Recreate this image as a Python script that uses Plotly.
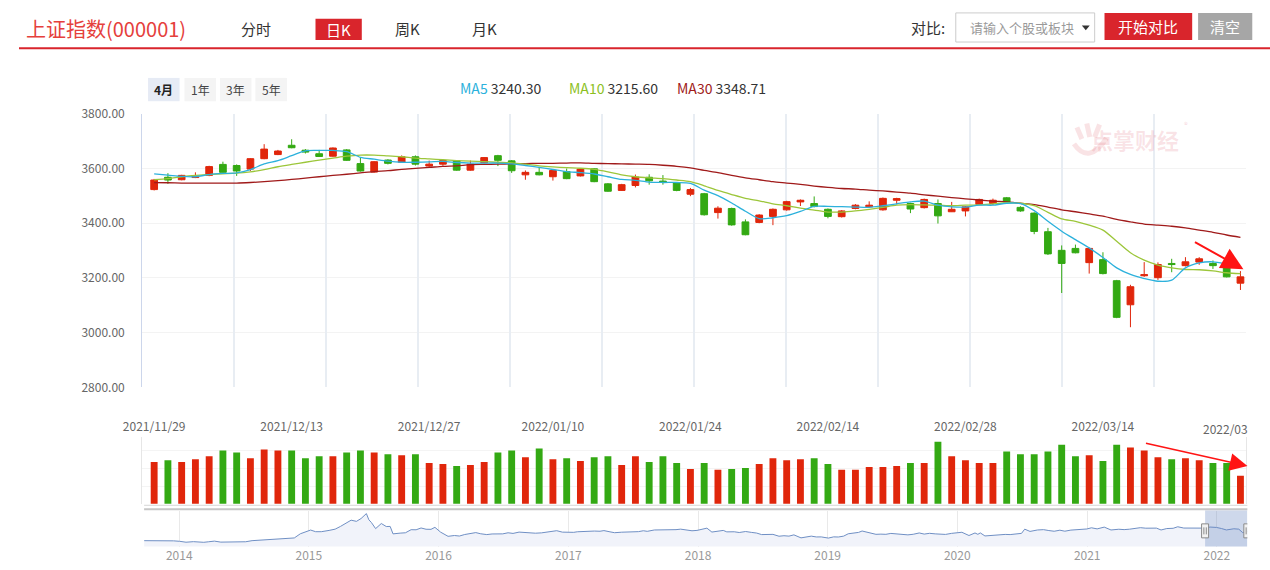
import plotly.graph_objects as go

# ---------------- data ----------------
dates = [
    "2021/11/29", "2021/11/30", "2021/12/01", "2021/12/02", "2021/12/03",
    "2021/12/06", "2021/12/07", "2021/12/08", "2021/12/09", "2021/12/10",
    "2021/12/13", "2021/12/14", "2021/12/15", "2021/12/16", "2021/12/17",
    "2021/12/20", "2021/12/21", "2021/12/22", "2021/12/23", "2021/12/24",
    "2021/12/27", "2021/12/28", "2021/12/29", "2021/12/30", "2021/12/31",
    "2022/01/04", "2022/01/05", "2022/01/06", "2022/01/07",
    "2022/01/10", "2022/01/11", "2022/01/12", "2022/01/13", "2022/01/14",
    "2022/01/17", "2022/01/18", "2022/01/19", "2022/01/20", "2022/01/21",
    "2022/01/24", "2022/01/25", "2022/01/26", "2022/01/27", "2022/01/28",
    "2022/02/07", "2022/02/08", "2022/02/09", "2022/02/10", "2022/02/11",
    "2022/02/14", "2022/02/15", "2022/02/16", "2022/02/17", "2022/02/18",
    "2022/02/21", "2022/02/22", "2022/02/23", "2022/02/24", "2022/02/25",
    "2022/02/28", "2022/03/01", "2022/03/02", "2022/03/03", "2022/03/04",
    "2022/03/07", "2022/03/08", "2022/03/09", "2022/03/10", "2022/03/11",
    "2022/03/14", "2022/03/15", "2022/03/16", "2022/03/17", "2022/03/18",
    "2022/03/21", "2022/03/22", "2022/03/23", "2022/03/24", "2022/03/25",
    "2022/03/28",
]

opens = [3523, 3568, 3559, 3567, 3575, 3615, 3611, 3598, 3636, 3651,
         3685, 3667, 3654, 3645, 3668, 3618, 3587, 3631, 3623, 3643,
         3609, 3616, 3628, 3594, 3621, 3647, 3628, 3577, 3586, 3570,
         3589, 3573, 3599, 3544, 3520, 3538, 3568, 3554, 3547, 3506,
         3508, 3439, 3454, 3405, 3403, 3425, 3449, 3478, 3472, 3451,
         3424, 3454, 3460, 3449, 3484, 3472, 3457, 3472, 3442, 3445,
         3469, 3472, 3493, 3458, 3437, 3369, 3301, 3308, 3256, 3267,
         3190, 3102, 3208, 3201, 3253, 3245, 3258, 3253, 3242, 3181]
closes = [3558, 3558, 3575, 3572, 3607, 3586, 3591, 3636, 3671, 3664,
          3676, 3660, 3644, 3675, 3630, 3591, 3625, 3619, 3643, 3616,
          3616, 3629, 3594, 3616, 3640, 3630, 3592, 3586, 3577, 3593,
          3563, 3598, 3552, 3517, 3541, 3569, 3555, 3550, 3520, 3523,
          3431, 3455, 3394, 3358, 3430, 3451, 3479, 3484, 3461, 3425,
          3445, 3466, 3466, 3491, 3490, 3452, 3487, 3427, 3451, 3460,
          3487, 3484, 3478, 3445, 3370, 3288, 3253, 3292, 3308, 3216,
          3056, 3168, 3212, 3249, 3249, 3259, 3270, 3245, 3204, 3204]
highs = [3562, 3583, 3577, 3586, 3610, 3625, 3615, 3638, 3689, 3668,
         3707, 3671, 3668, 3677, 3671, 3641, 3627, 3634, 3648, 3648,
         3629, 3633, 3630, 3629, 3642, 3650, 3631, 3593, 3605, 3596,
         3600, 3600, 3601, 3547, 3544, 3578, 3579, 3576, 3549, 3529,
         3511, 3462, 3457, 3414, 3433, 3454, 3482, 3487, 3498, 3454,
         3448, 3470, 3480, 3494, 3493, 3475, 3490, 3487, 3478, 3463,
         3490, 3490, 3496, 3462, 3440, 3383, 3319, 3322, 3311, 3294,
         3193, 3175, 3258, 3257, 3270, 3276, 3276, 3264, 3245, 3225]
lows = [3520, 3544, 3557, 3565, 3572, 3584, 3573, 3591, 3634, 3649,
        3674, 3655, 3642, 3643, 3628, 3589, 3585, 3615, 3621, 3611,
        3603, 3610, 3592, 3592, 3619, 3609, 3584, 3559, 3575, 3556,
        3561, 3571, 3550, 3515, 3518, 3531, 3541, 3541, 3517, 3499,
        3428, 3417, 3391, 3356, 3400, 3393, 3446, 3463, 3458, 3418,
        3421, 3451, 3457, 3446, 3469, 3437, 3454, 3399, 3441, 3425,
        3466, 3466, 3475, 3442, 3360, 3284, 3145, 3290, 3216, 3213,
        3053, 3020, 3204, 3193, 3221, 3242, 3248, 3233, 3202, 3156]

ma5 = [3580.5, 3576, 3571, 3570, 3578, 3582, 3584, 3596, 3617, 3629,
       3647, 3664.5, 3666, 3666, 3662, 3641, 3634, 3627, 3623, 3623,
       3624, 3626, 3622, 3620, 3620, 3620, 3617, 3611, 3604, 3596.5,
       3588.5, 3585, 3580, 3570, 3560, 3557, 3550.5, 3549, 3549, 3545.5,
       3521, 3501, 3474, 3444, 3417, 3420, 3427.5, 3443, 3462, 3461.5,
       3460.5, 3459, 3458, 3464, 3471, 3478, 3481, 3466, 3460, 3459,
       3466, 3466, 3473, 3472, 3446, 3407, 3371, 3340, 3310, 3275,
       3237, 3213, 3198, 3188, 3192, 3237, 3255, 3259, 3251, 3240.3]
ma10 = [3559, 3563, 3570, 3575, 3578, 3580.5, 3583, 3588, 3596, 3606.5,
        3615, 3623, 3631, 3638, 3645, 3649, 3649, 3646, 3643, 3638,
        3635, 3632, 3629, 3627, 3625, 3623, 3621, 3616, 3610, 3606,
        3603, 3601, 3597, 3588, 3577, 3570, 3566, 3563, 3558, 3552,
        3537, 3520, 3505, 3491, 3482, 3471, 3464, 3455, 3448, 3441,
        3441, 3445, 3451, 3458, 3466, 3468, 3467, 3466, 3464, 3466,
        3467, 3471, 3475, 3473, 3464, 3440, 3416, 3407, 3393, 3375,
        3334, 3292, 3265, 3247, 3237, 3231, 3230, 3226, 3219, 3215.6]
ma30 = [3548.6, 3548, 3547, 3547, 3547, 3547, 3547, 3549, 3552, 3556,
        3560, 3565, 3570, 3575, 3579, 3584, 3589, 3592, 3597, 3600.6,
        3604, 3608, 3610, 3614, 3615, 3616, 3617, 3618, 3619, 3619,
        3620, 3621, 3619, 3618, 3617, 3616, 3615, 3612, 3608, 3602,
        3593, 3585, 3575, 3566, 3559, 3552, 3547, 3542, 3536, 3531,
        3527, 3525, 3521, 3518, 3514, 3510, 3504, 3499, 3494, 3489,
        3485, 3481, 3478, 3473, 3468, 3459, 3449, 3442, 3434, 3426,
        3414, 3405, 3397, 3393, 3389, 3383, 3375, 3367, 3357, 3348.71]

volumes = [4366, 4475, 4366, 4530, 4696, 5025, 4916, 4586, 5080, 5025,
           5025, 4586, 4696, 4696, 4916, 5025, 4916, 4805, 4750, 4805,
           4311, 4256, 4146, 4201, 4366, 4916, 5025, 4641, 5135, 4530,
           4586, 4421, 4641, 4696, 4201, 4696, 4366, 4696, 4311, 3981,
           4311, 3926, 3981, 4036, 4256, 4586, 4475, 4530, 4586, 4256,
           3926, 3926, 4091, 4091, 4146, 4311, 4311, 5520, 4696, 4475,
           4311, 4311, 4970, 4805, 4805, 4970, 5355, 4696, 4750, 4421,
           5355, 5190, 5025, 4641, 4530, 4586, 4475, 4311, 4311, 3596]

tick_dates = ["2021/11/29", "2021/12/13", "2021/12/27", "2022/01/10", "2022/01/24",
              "2022/02/14", "2022/02/28", "2022/03/14"]
last_tick_label = "2022/03"
y_ticks = [2800, 3000, 3200, 3400, 3600, 3800]

legend_names = ["MA5", "MA10", "MA30"]
legend_values = ["3240.30", "3215.60", "3348.71"]

nav_dates = [
    "2013-09-24", "2013-10-15", "2013-11-01", "2013-11-15", "2013-12-02", "2013-12-16",
    "2014-01-02", "2014-01-20", "2014-02-10", "2014-02-24", "2014-03-11", "2014-03-25",
    "2014-04-10", "2014-04-28", "2014-05-15", "2014-06-03", "2014-06-20", "2014-07-07",
    "2014-07-25", "2014-08-11", "2014-08-29", "2014-09-15", "2014-09-30", "2014-10-20",
    "2014-11-05", "2014-11-21", "2014-12-08", "2014-12-22", "2015-01-06", "2015-01-20",
    "2015-02-05", "2015-02-27", "2015-03-16", "2015-03-31", "2015-04-15", "2015-04-30",
    "2015-05-15", "2015-05-28", "2015-06-12", "2015-06-19", "2015-06-26", "2015-07-08",
    "2015-07-24", "2015-08-07", "2015-08-18", "2015-08-26", "2015-09-15", "2015-09-30",
    "2015-10-16", "2015-10-30", "2015-11-13", "2015-11-27", "2015-12-11", "2015-12-22",
    "2016-01-07", "2016-01-28", "2016-02-15", "2016-02-29", "2016-03-15", "2016-03-31",
    "2016-04-15", "2016-04-29", "2016-05-16", "2016-05-31", "2016-06-15", "2016-06-30",
    "2016-07-15", "2016-07-29", "2016-08-15", "2016-08-31", "2016-09-14", "2016-09-30",
    "2016-10-17", "2016-10-31", "2016-11-15", "2016-11-29", "2016-12-15", "2016-12-30",
    "2017-01-16", "2017-01-26", "2017-02-15", "2017-02-28", "2017-03-15", "2017-03-31",
    "2017-04-11", "2017-04-28", "2017-05-11", "2017-05-31", "2017-06-15", "2017-06-30",
    "2017-07-17", "2017-07-31", "2017-08-11", "2017-08-31", "2017-09-15", "2017-09-29",
    "2017-10-16", "2017-10-31", "2017-11-13", "2017-11-30", "2017-12-15", "2017-12-29",
    "2018-01-12", "2018-01-26", "2018-02-09", "2018-02-28", "2018-03-13", "2018-03-23",
    "2018-04-13", "2018-04-27", "2018-05-15", "2018-05-31", "2018-06-15", "2018-06-29",
    "2018-07-13", "2018-07-31", "2018-08-17", "2018-08-31", "2018-09-14", "2018-09-28",
    "2018-10-18", "2018-10-31", "2018-11-16", "2018-11-30", "2018-12-14", "2019-01-03",
    "2019-01-18", "2019-01-31", "2019-02-15", "2019-02-28", "2019-03-15", "2019-03-29",
    "2019-04-08", "2019-04-30", "2019-05-17", "2019-05-31", "2019-06-14", "2019-06-28",
    "2019-07-15", "2019-07-31", "2019-08-15", "2019-08-30", "2019-09-16", "2019-09-30",
    "2019-10-15", "2019-10-31", "2019-11-15", "2019-11-29", "2019-12-16", "2019-12-31",
    "2020-01-14", "2020-02-03", "2020-02-20", "2020-02-28", "2020-03-06", "2020-03-19",
    "2020-03-31", "2020-04-15", "2020-04-30", "2020-05-15", "2020-05-29", "2020-06-15",
    "2020-06-30", "2020-07-09", "2020-07-24", "2020-08-14", "2020-08-31", "2020-09-15",
    "2020-09-30", "2020-10-16", "2020-10-30", "2020-11-16", "2020-11-30", "2020-12-15",
    "2020-12-31", "2021-01-13", "2021-01-29", "2021-02-18", "2021-03-09", "2021-03-31",
    "2021-04-15", "2021-04-30", "2021-05-14", "2021-05-31", "2021-06-15", "2021-06-30",
    "2021-07-15", "2021-07-28", "2021-08-13", "2021-08-31", "2021-09-13", "2021-09-30",
    "2021-10-15", "2021-10-29", "2021-11-15", "2021-11-26", "2021-12-13", "2021-12-31",
    "2022-01-14", "2022-01-28", "2022-02-18", "2022-03-04", "2022-03-15", "2022-03-28",
]
nav_values = [
    2180, 2190, 2150, 2135, 2210, 2160,
    2110, 2010, 2070, 2030, 2000, 2060,
    2130, 2020, 2025, 2030, 2025, 2060,
    2180, 2220, 2215, 2300, 2365, 2360,
    2430, 2480, 2940, 3130, 3350, 3170,
    3170, 3310, 3450, 3750, 4085, 4440,
    4310, 4620, 5166, 4480, 4190, 3510,
    4070, 3740, 3750, 2930, 3010, 3050,
    3390, 3380, 3580, 3440, 3430, 3650,
    3120, 2660, 2750, 2690, 2860, 3000,
    3070, 2940, 2850, 2920, 2890, 2930,
    3050, 2980, 3125, 3085, 3000, 3005,
    3040, 3100, 3210, 3280, 3120, 3105,
    3100, 3160, 3210, 3240, 3240, 3220,
    3290, 3155, 3060, 3115, 3130, 3190,
    3175, 3275, 3210, 3360, 3355, 3350,
    3390, 3395, 3450, 3320, 3270, 3310,
    3430, 3560, 3130, 3260, 3310, 3150,
    3160, 3080, 3190, 3095, 3020, 2850,
    2830, 2875, 2670, 2725, 2680, 2820,
    2490, 2600, 2680, 2590, 2595, 2465,
    2600, 2585, 2680, 2940, 3020, 3090,
    3245, 3080, 2880, 2900, 2880, 2980,
    2940, 2930, 2820, 2885, 3030, 2905,
    2990, 2930, 2890, 2870, 2985, 3050,
    3105, 2750, 3030, 2880, 3035, 2700,
    2750, 2810, 2860, 2870, 2850, 2890,
    2985, 3450, 3200, 3360, 3395, 3295,
    3220, 3335, 3225, 3345, 3390, 3370,
    3470, 3600, 3480, 3675, 3360, 3440,
    3400, 3445, 3490, 3615, 3555, 3590,
    3565, 3360, 3515, 3545, 3715, 3570,
    3570, 3550, 3535, 3565, 3681, 3640,
    3521, 3361, 3491, 3448, 3064, 3214,
]

# ---------------- style ----------------
W, H = 1270, 570
RED = "#e0260b"
GREEN = "#33a913"
C_MA5 = "#2cb1dc"
C_MA10 = "#9cc63a"
C_MA30 = "#a01a1a"
WM = "rgba(220,80,95,0.16)"
FONT = "Noto Sans CJK SC, Noto Sans, sans-serif"


def px(x):
    return x / W


def py(y):
    return 1 - y / H


main_dom_x = [px(125), px(1246)]
cat_range = [-0.875, 79.43]

fig = go.Figure()

# vertical grid helper (12 equal divisions of main plot)
fig.add_trace(go.Scatter(x=[0, 12], y=[y_ticks[0], y_ticks[0]], mode="markers",
                         marker=dict(opacity=0), xaxis="x4", yaxis="y",
                         hoverinfo="skip", showlegend=False))

fig.add_trace(go.Candlestick(
    x=dates, open=opens, high=highs, low=lows, close=closes,
    increasing=dict(line=dict(color=RED, width=1), fillcolor=RED),
    decreasing=dict(line=dict(color=GREEN, width=1), fillcolor=GREEN),
    whiskerwidth=0, xaxis="x", yaxis="y", showlegend=False))

for vals, col in [(ma30, C_MA30), (ma10, C_MA10), (ma5, C_MA5)]:
    fig.add_trace(go.Scatter(x=dates, y=vals, mode="lines",
                             line=dict(color=col, width=1.3, shape="spline", smoothing=0.8),
                             xaxis="x", yaxis="y", hoverinfo="skip", showlegend=False))

bar_colors = [RED if c >= o else GREEN for o, c in zip(opens, closes)]
fig.add_trace(go.Bar(x=dates, y=volumes, marker=dict(color=bar_colors, line=dict(width=0)),
                     xaxis="x2", yaxis="y2", showlegend=False, hoverinfo="skip"))

fig.add_trace(go.Scatter(x=nav_dates, y=nav_values, mode="lines", fill="tozeroy",
                         fillcolor="#f1f3fa", line=dict(color="#6f8fc4", width=1),
                         xaxis="x3", yaxis="y3", hoverinfo="skip", showlegend=False))

shapes = []


def prect(x0, y0, x1, y1, fill, line=None, layer="below"):
    shapes.append(dict(type="rect", xref="paper", yref="paper", x0=px(x0), x1=px(x1),
                       y0=py(y1), y1=py(y0), fillcolor=fill,
                       line=line if line else dict(width=0), layer=layer))


def pline(x0, y0, x1, y1, color, width):
    shapes.append(dict(type="line", xref="paper", yref="paper", x0=px(x0), x1=px(x1),
                       y0=py(y0), y1=py(y1), line=dict(color=color, width=width)))


# header
pline(0, 39.5, W, 39.5, "#d9252c", 2)
prect(301, 9, 348, 31, "#d9252c")
prect(951, 3, 1092, 33, "white", dict(color="#cccccc", width=1))
prect(1102, 3, 1191, 31, "#d9252c")
prect(1197, 3, 1252, 31, "#a6a6a6")
# dropdown caret
shapes.append(dict(type="path", xref="paper", yref="paper",
                   path="M %f,%f L %f,%f L %f,%f Z" % (px(1079), py(16), px(1087), py(16), px(1083), py(21)),
                   fillcolor="#333", line=dict(width=0)))
# range buttons
for (x0, x1), fc in zip([(131, 163), (168, 200), (204, 236), (240, 272)],
                        ["#e6ebf5", "#f4f4f4", "#f4f4f4", "#f4f4f4"]):
    prect(x0, 70, x1, 94, fc)
# volume bottom & navigator top lines
pline(127, 510.5, 1247, 510.5, "#d6d6d6", 1)
pline(127, 514.5, 1247, 514.5, "#c6c6c6", 2)
# watermark logo strokes
for (x0, y0, x1, y1) in [(1074, 121, 1079, 133), (1084, 117, 1087, 131), (1097, 118, 1092, 131)]:
    pline(x0, y0, x1, y1, WM, 5)
shapes.append(dict(type="path", xref="paper", yref="paper",
                   path="M %f,%f Q %f,%f %f,%f" % (px(1071), py(138), px(1086), py(160), px(1104), py(132)),
                   line=dict(color=WM, width=5)))
# navigator selection
shapes.append(dict(type="rect", xref="x3", yref="y3 domain", x0="2021-11-29", x1="2022-03-28", y0=0, y1=1,
                   fillcolor="rgba(102,133,194,0.32)", line=dict(width=0), layer="above"))
for anchor in ["2021-11-29", "2022-03-28"]:
    shapes.append(dict(type="rect", xref="x3", yref="y3", xsizemode="pixel", ysizemode="pixel",
                       xanchor=anchor, yanchor=3262, x0=-3.5, x1=3.5, y0=-7, y1=7,
                       fillcolor="#f2f2f2", line=dict(color="#8a8a8a", width=1), layer="above"))
    for dx in (-1.2, 1.2):
        shapes.append(dict(type="line", xref="x3", yref="y3", xsizemode="pixel", ysizemode="pixel",
                           xanchor=anchor, yanchor=3262, x0=dx, x1=dx, y0=-3.5, y1=3.5,
                           line=dict(color="#8a8a8a", width=1), layer="above"))

ann = []


def text(x, y, s, size=15, color="#333", xanchor="center", bold=False):
    ann.append(dict(xref="paper", yref="paper", x=px(x), y=py(y), text=("<b>%s</b>" % s) if bold else s,
                    showarrow=False, xanchor=xanchor, yanchor="middle",
                    font=dict(size=size, color=color, family=FONT)))


text(5, 19, "上证指数(000001)", size=20, color="#e5403c", xanchor="left")
text(241, 19, "分时", size=15)
text(324.5, 20, "日K", size=15, color="white")
text(394, 19, "周K", size=15)
text(473, 19, "月K", size=15)
text(942, 18, "对比:", size=15, xanchor="right")
text(963, 18, "请输入个股或板块", size=13, color="#9a9a9a", xanchor="left")
text(1146.5, 17, "开始对比", size=15, color="white")
text(1224.5, 17, "清空", size=15, color="white")
text(147, 82, "4月", size=12, color="#222", bold=True)
text(184, 82, "1年", size=12, color="#444")
text(220, 82, "3年", size=12, color="#444")
text(256, 82, "5年", size=12, color="#444")
for xpos, name, val, col in zip([446, 556, 666], legend_names, legend_values, [C_MA5, "#8cbf1f", C_MA30]):
    text(xpos, 80, "<span style='color:%s'>%s</span> %s" % (col, name, val), size=14, color="#333",
         xanchor="left")
# last (clipped) date label at the right edge of the volume panel
text(1250, 431, last_tick_label, size=12, color="#666", xanchor="right")
# watermark text
text(1133, 133, "点掌财经", size=22, color=WM, bold=True)
text(1185, 118, "®", size=8, color="rgba(220,80,95,0.25)")

# arrows
ann.append(dict(xref="x", yref="y", x=dates[-1], y=3232, ax=-50, ay=-28, xshift=3, text="",
                showarrow=True, arrowhead=2, arrowsize=2.2, arrowwidth=2, arrowcolor="#ff1414"))
ann.append(dict(xref="x2", yref="y2", x=dates[-1], y=4145, ax=-103, ay=-23, xshift=7, text="",
                showarrow=True, arrowhead=2, arrowsize=2.2, arrowwidth=1.6, arrowcolor="#ff1414"))

fig.update_layout(
    width=W, height=H, margin=dict(l=0, r=0, t=0, b=0),
    paper_bgcolor="white", plot_bgcolor="white",
    font=dict(family=FONT, color="#666"),
    showlegend=False, hovermode=False, bargap=0.5,
    xaxis=dict(domain=main_dom_x, type="category", range=cat_range, showticklabels=False,
               showgrid=False, zeroline=False, rangeslider=dict(visible=False), anchor="y", ticks=""),
    xaxis4=dict(domain=main_dom_x, overlaying="x", range=[0, 12], tick0=0, dtick=1, showgrid=True,
                gridcolor="#e8edf3", gridwidth=2, showticklabels=False, zeroline=False, anchor="y",
                ticks=""),
    yaxis=dict(domain=[py(389), py(107)], range=[2800, 3800], tickvals=y_ticks, tickformat=".2f",
               tickfont=dict(size=12, color="#666"), gridcolor="#f3f3f3", zeroline=False,
               ticklabelstandoff=14, anchor="x", showline=True, linecolor="#ccd6eb", linewidth=1),
    xaxis2=dict(domain=main_dom_x, type="category", range=cat_range, side="top",
                tickvals=tick_dates, ticktext=tick_dates, tickfont=dict(size=12, color="#666"),
                showgrid=False, zeroline=False, anchor="y2", ticks="", ticklabelstandoff=2),
    yaxis2=dict(domain=[py(509), py(440)], range=[2000, 5795], showticklabels=False,
                gridcolor="#f4f4f4", dtick=1000, zeroline=False, showline=True, mirror=True,
                linecolor="#e6e6e6", anchor="x2", ticks=""),
    xaxis3=dict(domain=[px(127), px(1247)], type="date", range=["2013-09-24", "2022-03-28"],
                tick0="2014-01-01", dtick="M12", tickformat="%Y", tickfont=dict(size=12, color="#999"),
                showgrid=True, gridcolor="#e9e9e9", zeroline=False, anchor="y3", ticks=""),
    yaxis3=dict(domain=[py(553), py(516)], range=[1536, 5495], showticklabels=False, showgrid=False,
                zeroline=False, anchor="x3"),
    shapes=shapes, annotations=ann,
)

fig.write_html("out.html")
